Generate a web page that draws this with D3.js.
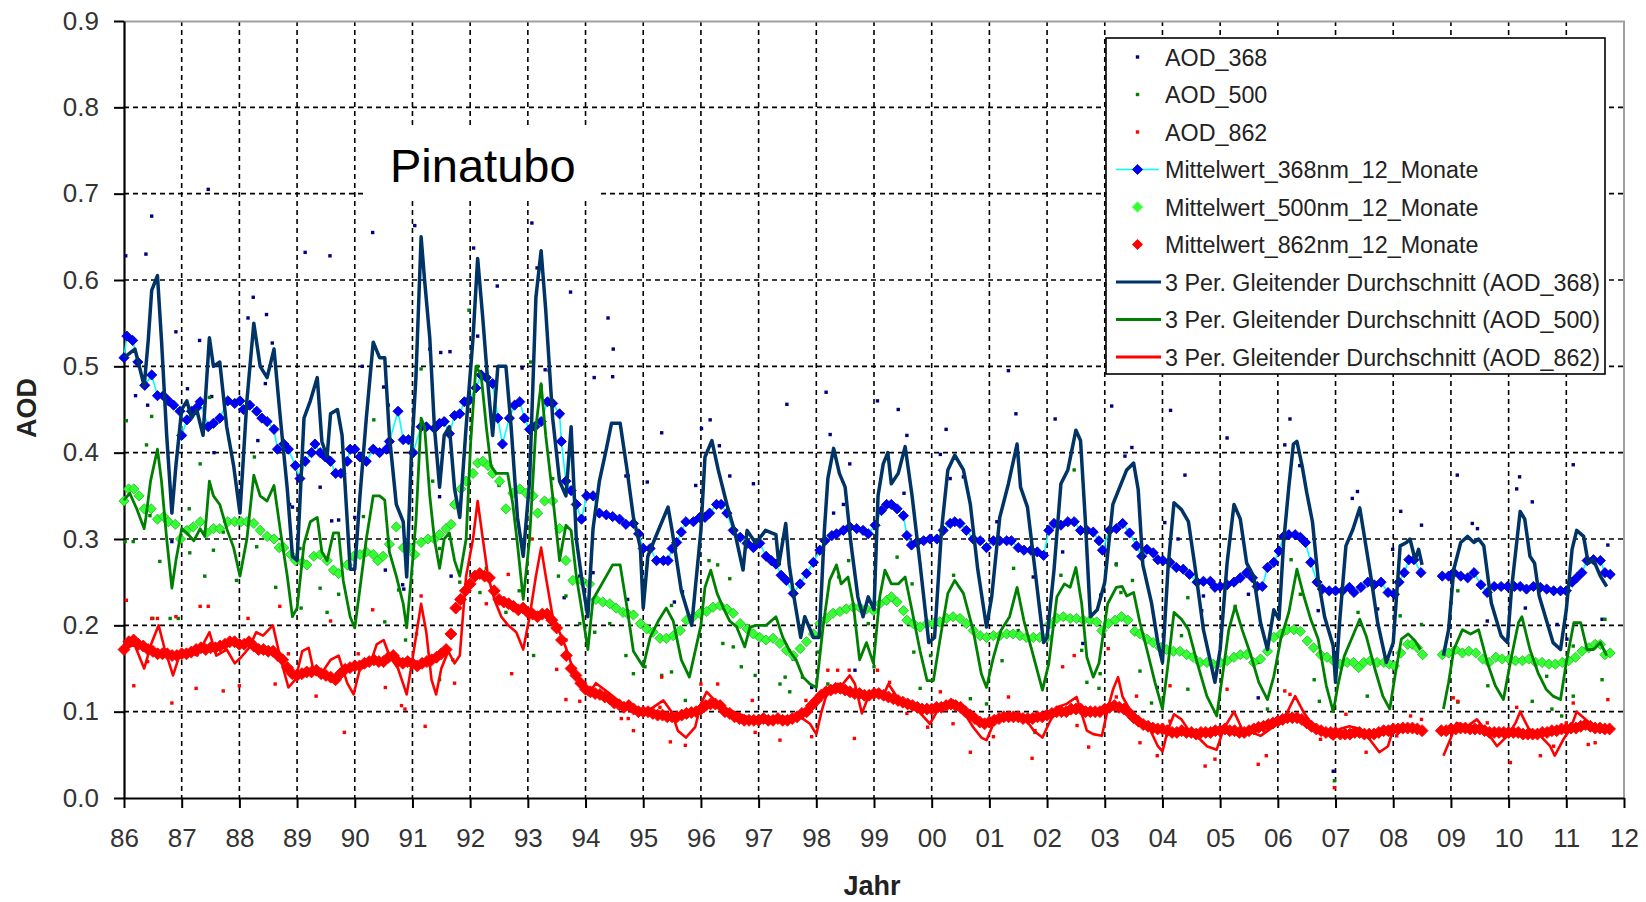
<!DOCTYPE html>
<html>
<head>
<meta charset="utf-8">
<script src="https://cdn.jsdelivr.net/npm/d3@7"></script>
<style>
  body { margin: 0; background: #fff; }
  svg { font-family: "Liberation Sans", Arial, sans-serif; }
</style>
</head>
<body>
<svg id="chart" width="1646" height="902"></svg>
<script>
// ---- data (decimal year, AOD) ----
var yearTicks = d3.range(1986, 2013);
var aodTicks = [0, 0.1, 0.2, 0.3, 0.4, 0.5, 0.6, 0.7, 0.8, 0.9];

var legendLabels = ["AOD_368", "AOD_500", "AOD_862",
  "Mittelwert_368nm_12_Monate", "Mittelwert_500nm_12_Monate", "Mittelwert_862nm_12_Monate",
  "3 Per. Gleitender Durchschnitt (AOD_368)", "3 Per. Gleitender Durchschnitt (AOD_500)",
  "3 Per. Gleitender Durchschnitt (AOD_862)"];

// single observations that stand out of the curves
var aod368 = [[1986.03,0.628],[1986.38,0.63],[1986.48,0.674],[1987.46,0.705],[1986.9,0.54],[1988.24,0.58],[1988.15,0.556],
  [1988.47,0.56],[1989.14,0.632],[1989.57,0.628],[1990.31,0.655],[1991.04,0.663],[1992.06,0.637],[1993.07,0.666],[1992.47,0.593],
  [1993.74,0.586],[1994.39,0.556],[1994.48,0.52],[1991.65,0.517],[1987.31,0.53],[1990.5,0.476],[1990.13,0.5],[1987.52,0.465],
  [1987.1,0.474],[1986.41,0.455],[1986.2,0.466],[1988.45,0.48],[1993.3,0.496],[1993.37,0.495],[1988.57,0.527],[1991.49,0.516],
  [1992.13,0.535],[1994.47,0.488],[1994.15,0.487],[1990.58,0.455],[1991.3,0.52],[1992.9,0.498],[1994.7,0.373],[1994.73,0.23],
  [1993.63,0.232],[1990.83,0.247],[1989.4,0.36],[1988.92,0.337],[1988.32,0.414],[1987.56,0.4],[1986.83,0.297],[1990.53,0.264],
  [1989.6,0.321],[1991.67,0.257],[1993.9,0.257],[1994.13,0.261],[1991.47,0.349],[1990.0,0.325],[1988.87,0.34],[1989.72,0.322],
  [1990.85,0.242],[1993.16,0.614],[1994.74,0.373],[1995.07,0.366],[1995.32,0.423],[1996.01,0.428],[1996.16,0.438],[1996.32,0.408],
  [1996.5,0.373],[1995.91,0.362],[1996.91,0.364],[1997.49,0.456],[1998.17,0.47],[1998.24,0.421],[1998.58,0.387],[1999.06,0.46],
  [1999.42,0.45],[1999.57,0.42],[2000.25,0.427],[2000.15,0.398],[2000.55,0.372],[2000.32,0.37],[2001.33,0.495],[2001.46,0.445],
  [2002.14,0.439],[2003.12,0.454],[1999.52,0.353],[2001.13,0.32],[1998.47,0.34],[1998.3,0.33],[1997.92,0.128],[1998.67,0.148],
  [1997.6,0.161],[1995.54,0.227],[1995.68,0.239],[2002.62,0.179],[2001.76,0.256],[2002.93,0.235],[2002.27,0.285],[2003.2,0.271],
  [2004.14,0.449],[2003.47,0.406],[2003.35,0.396],[2004.39,0.374],[2005.12,0.417],[2006.21,0.439],[2006.12,0.409],[2006.38,0.385],
  [2007.29,0.347],[2007.38,0.355],[2008.13,0.332],[2008.49,0.316],[2009.11,0.374],[2009.37,0.318],[2009.46,0.312],[2010.19,0.372],
  [2010.14,0.358],[2010.41,0.343],[2011.12,0.386],[2011.72,0.293],[2011.62,0.207],[2006.96,0.031],[2004.04,0.319],[2004.27,0.3],
  [2004.71,0.234],[2003.91,0.128],[2005.66,0.116],[2005.49,0.236],[2004.68,0.217],[2006.7,0.217],[2007.99,0.288],[2007.73,0.219],
  [2009.63,0.205],[2010.29,0.22],[2010.84,0.201],[2009.0,0.226],[2011.01,0.184]];

var aod500 = [[1986.04,0.437],[1986.48,0.442],[1986.39,0.409],[1986.02,0.297],[1986.16,0.297],[1986.45,0.327],[1987.13,0.335],
  [1987.32,0.387],[1987.48,0.464],[1986.62,0.274],[1987.14,0.284],[1987.4,0.257],[1987.55,0.287],[1988.26,0.395],[1987.95,0.252],
  [1988.3,0.291],[1988.63,0.244],[1989.05,0.289],[1989.07,0.22],[1989.4,0.243],[1989.72,0.236],[1990.33,0.438],[1990.15,0.326],
  [1990.52,0.204],[1990.76,0.241],[1990.88,0.183],[1991.15,0.497],[1991.35,0.367],[1991.47,0.289],[1991.82,0.25],[1991.98,0.565],
  [1992.13,0.5],[1992.5,0.362],[1993.05,0.505],[1993.23,0.477],[1993.43,0.37],[1993.53,0.257],[1993.66,0.234],[1993.9,0.202],
  [1994.16,0.192],[1994.42,0.202],[1994.7,0.165],[1992.85,0.24],[1993.1,0.165],[1992.05,0.257],[1992.17,0.238],[1992.62,0.215],
  [1992.28,0.266],[1989.52,0.215],[1991.07,0.19],[1991.7,0.16],[1991.47,0.137],[1987.72,0.308],[1986.8,0.208],[1986.5,0.208],
  [1986.94,0.208],[1996.29,0.27],[1996.14,0.275],[1996.5,0.254],[1995.49,0.223],[1994.83,0.144],[1995.32,0.142],[1995.49,0.146],
  [1995.03,0.152],[1995.73,0.113],[1996.38,0.179],[1996.56,0.175],[1996.7,0.152],[1996.94,0.142],[1997.37,0.132],[1997.46,0.14],
  [1997.54,0.123],[1998.56,0.275],[1998.39,0.256],[1999.4,0.279],[1999.66,0.248],[2000.38,0.258],[2001.42,0.266],[2002.47,0.38],
  [2002.24,0.258],[2003.2,0.27],[1999.69,0.169],[1999.98,0.165],[1999.8,0.127],[2000.67,0.115],[2000.95,0.109],[2001.79,0.076],
  [2002.6,0.171],[2002.69,0.134],[2002.92,0.144],[2002.9,0.127],[1998.03,0.169],[1997.76,0.14],[1998.2,0.132],[1998.9,0.202],
  [1999.0,0.152],[2001.5,0.194],[2001.22,0.159],[2003.48,0.252],[2003.28,0.238],[2004.44,0.232],[2004.33,0.188],[2005.26,0.222],
  [2006.23,0.276],[2006.39,0.236],[2007.39,0.215],[2008.12,0.211],[2008.49,0.201],[2009.12,0.24],[2010.1,0.157],[2011.12,0.176],
  [2011.67,0.207],[2011.62,0.137],[2003.61,0.147],[2003.81,0.11],[2004.44,0.126],[2005.66,0.157],[2005.82,0.103],[2006.63,0.137],
  [2006.72,0.112],[2006.98,0.02],[2007.55,0.118],[2006.96,0.101],[2009.12,0.111],[2009.64,0.13],[2010.41,0.112],[2010.75,0.103],
  [2011.12,0.118],[2010.92,0.095],[2010.66,0.141]];

var aod862 = [[1986.04,0.229],[1986.48,0.208],[1986.58,0.208],[1986.9,0.21],[1987.32,0.222],[1987.46,0.222],[1988.15,0.208],
  [1988.7,0.222],[1986.17,0.13],[1986.83,0.11],[1987.25,0.127],[1988.0,0.13],[1988.62,0.132],[1989.33,0.118],[1989.58,0.205],
  [1989.82,0.076],[1990.31,0.218],[1990.53,0.128],[1990.81,0.107],[1990.87,0.103],[1991.15,0.234],[1991.22,0.083],[1991.73,0.133],
  [1992.66,0.259],[1993.07,0.3],[1992.72,0.144],[1993.5,0.149],[1993.66,0.114],[1993.9,0.112],[1994.62,0.092],[1993.66,0.183],
  [1990.06,0.167],[1986.41,0.158],[1987.72,0.124],[1988.85,0.167],[1992.28,0.225],[1991.82,0.22],[1992.39,0.238],[1994.74,0.092],
  [1995.32,0.14],[1995.47,0.065],[1995.73,0.061],[1996.29,0.132],[1996.0,0.132],[1996.89,0.113],[1996.94,0.076],[1997.37,0.067],
  [1997.92,0.071],[1998.2,0.148],[1998.37,0.148],[1998.57,0.148],[1998.66,0.069],[1999.06,0.148],[1999.27,0.134],[2000.15,0.123],
  [1999.93,0.082],[2000.67,0.053],[2001.33,0.117],[2001.74,0.046],[2001.79,0.078],[2002.47,0.165],[2002.27,0.152],[2002.72,0.059],
  [2003.06,0.173],[2003.2,0.117],[2002.52,0.084],[1994.83,0.078],[1995.29,0.105],[1997.82,0.113],[2000.37,0.086],[2001.07,0.071],
  [1999.57,0.098],[2004.13,0.13],[2005.12,0.126],[2006.12,0.124],[2006.21,0.12],[2007.18,0.097],[2008.49,0.091],[2009.12,0.112],
  [2010.14,0.105],[2011.12,0.11],[2011.72,0.114],[2003.91,0.049],[2003.61,0.064],[2004.74,0.037],[2004.91,0.045],[2005.66,0.039],
  [2005.8,0.049],[2006.98,0.012],[2007.53,0.053],[2009.04,0.116],[2010.03,0.041],[2010.55,0.049],[2010.78,0.06],[2011.38,0.062],
  [2004.13,0.089],[2006.74,0.068],[2008.06,0.072],[2009.63,0.087],[2011.0,0.087],[2011.5,0.064],[2008.3,0.095],[2003.55,0.118]];

// 12-month means (diamonds); null = no data
var mean368 = [[1986.0,0.51],[1986.05,0.535],[1986.15,0.53],[1986.24,0.505],[1986.36,0.478],[1986.48,0.49],[1986.58,0.466],
  [1986.68,0.466],[1986.77,0.46],[1986.86,0.455],[1986.97,0.448],[1987.0,0.42],[1987.09,0.438],[1987.17,0.448],[1987.26,0.452],
  [1987.32,0.459],[1987.46,0.43],[1987.55,0.434],[1987.66,0.44],[1987.8,0.46],[1987.92,0.457],[1988.01,0.46],[1988.07,0.45],
  [1988.18,0.455],[1988.3,0.448],[1988.39,0.44],[1988.48,0.436],[1988.6,0.427],[1988.66,0.404],[1988.77,0.41],[1988.85,0.404],
  [1988.97,0.385],[1989.05,0.37],[1989.14,0.39],[1989.25,0.4],[1989.31,0.41],[1989.4,0.4],[1989.49,0.395],[1989.58,0.39],
  [1989.67,0.376],[1989.76,0.376],[1989.87,0.39],[1989.92,0.404],[1990.0,0.404],[1990.09,0.395],[1990.2,0.39],[1990.32,0.404],
  [1990.43,0.4],[1990.55,0.404],[1990.6,0.413],[1990.75,0.448],[1990.84,0.415],[1990.93,0.415],[1991.01,0.4],[1991.15,0.43],
  [1991.24,0.43],[1991.38,0.428],[1991.47,0.434],[1991.55,0.436],[1991.64,0.422],[1991.73,0.443],[1991.82,0.445],[1991.9,0.459],
  [1991.99,0.461],[1992.1,0.475],[1992.19,0.49],[1992.28,0.487],[1992.39,0.48],[1992.48,0.44],[1992.56,0.41],[1992.68,0.44],
  [1992.77,0.455],[1992.86,0.459],[1992.94,0.44],[1993.03,0.427],[1993.12,0.43],[1993.23,0.436],[1993.34,0.459],[1993.43,0.457],
  [1993.55,0.445],[1993.58,0.413],[1993.66,0.367],[1993.75,0.356],[1993.84,0.34],[1993.93,0.323],[1994.02,0.35],[1994.13,0.35],
  [1994.24,0.33],[1994.36,0.328],[1994.47,0.326],[1994.59,0.323],[1994.7,0.317],[1994.83,0.318],[1994.92,0.306],[1995.0,0.289],
  [1995.12,0.289],[1995.23,0.275],[1995.35,0.275],[1995.43,0.275],[1995.5,0.289],[1995.58,0.296],[1995.66,0.308],[1995.74,0.32],
  [1995.87,0.32],[1995.98,0.325],[1996.07,0.325],[1996.15,0.33],[1996.27,0.34],[1996.35,0.34],[1996.45,0.33],[1996.56,0.31],
  [1996.68,0.302],[1996.8,0.295],[1996.91,0.29],[1997.02,0.295],[1997.13,0.28],[1997.22,0.275],[1997.3,0.271],[1997.39,0.258],
  [1997.48,0.252],[1997.6,0.237],[1997.72,0.248],[1997.83,0.26],[1997.95,0.273],[1998.06,0.287],[1998.15,0.298],[1998.27,0.304],
  [1998.35,0.306],[1998.47,0.31],[1998.58,0.314],[1998.7,0.312],[1998.81,0.31],[1998.9,0.306],[1999.02,0.316],[1999.13,0.333],
  [1999.22,0.34],[1999.3,0.34],[1999.4,0.335],[1999.51,0.327],[1999.57,0.304],[1999.65,0.293],[1999.74,0.296],[1999.86,0.298],
  [1999.97,0.3],[2000.09,0.3],[2000.2,0.31],[2000.32,0.318],[2000.4,0.32],[2000.49,0.318],[2000.6,0.31],[2000.72,0.3],
  [2000.84,0.298],[2000.95,0.29],[2001.07,0.298],[2001.18,0.298],[2001.3,0.298],[2001.38,0.298],[2001.5,0.29],[2001.6,0.287],
  [2001.72,0.287],[2001.83,0.285],[2001.94,0.281],[2002.03,0.31],[2002.12,0.318],[2002.24,0.316],[2002.36,0.32],[2002.47,0.32],
  [2002.58,0.31],[2002.69,0.31],[2002.8,0.308],[2002.9,0.298],[2002.96,0.287],[2003.08,0.31],[2003.2,0.312],[2003.31,0.318],
  [2003.43,0.307],[2003.55,0.292],[2003.64,0.28],[2003.73,0.288],[2003.84,0.284],[2003.92,0.276],[2004.01,0.275],[2004.13,0.273],
  [2004.24,0.267],[2004.36,0.265],[2004.47,0.259],[2004.6,0.25],[2004.71,0.251],[2004.83,0.251],[2004.91,0.244],[2005.0,0.245],
  [2005.12,0.247],[2005.24,0.25],[2005.35,0.255],[2005.46,0.261],[2005.56,0.255],[2005.64,0.245],[2005.73,0.245],[2005.82,0.267],
  [2005.93,0.273],[2006.02,0.286],[2006.1,0.303],[2006.19,0.305],[2006.3,0.305],[2006.39,0.302],[2006.48,0.296],[2006.57,0.273],
  [2006.68,0.25],[2006.77,0.242],[2006.89,0.24],[2007.0,0.24],[2007.12,0.24],[2007.24,0.244],[2007.32,0.238],[2007.44,0.244],
  [2007.56,0.25],[2007.67,0.247],[2007.79,0.25],[2007.91,0.238],[2008.02,0.236],[2008.1,0.25],[2008.19,0.261],[2008.27,0.276],
  [2008.36,0.276],[2008.48,0.261],[2008.7,null],[2008.85,0.257],[2008.96,0.257],[2009.05,0.261],[2009.17,0.257],[2009.29,0.255],
  [2009.4,0.261],[2009.52,0.247],[2009.63,0.238],[2009.75,0.245],[2009.87,0.245],[2009.98,0.245],[2010.1,0.245],[2010.2,0.245],
  [2010.31,0.242],[2010.43,0.245],[2010.55,0.244],[2010.66,0.242],[2010.78,0.24],[2010.9,0.24],[2011.0,0.24],[2011.1,0.25],
  [2011.18,0.255],[2011.27,0.261],[2011.36,0.275],[2011.47,0.276],[2011.59,0.275],[2011.67,0.261],[2011.76,0.259]];

var mean500 = [[1986.0,0.344],[1986.08,0.358],[1986.17,0.358],[1986.26,0.35],[1986.35,0.335],[1986.47,0.335],[1986.58,0.323],
  [1986.69,0.326],[1986.77,0.32],[1986.89,0.317],[1986.98,0.3],[1987.09,0.31],[1987.2,0.314],[1987.32,0.32],[1987.43,0.307],
  [1987.55,0.312],[1987.66,0.312],[1987.8,0.32],[1987.92,0.32],[1988.03,0.32],[1988.13,0.32],[1988.25,0.318],[1988.36,0.31],
  [1988.48,0.303],[1988.6,0.3],[1988.69,0.29],[1988.77,0.29],[1988.89,0.282],[1988.97,0.275],[1989.09,0.273],[1989.17,0.27],
  [1989.29,0.28],[1989.4,0.282],[1989.52,0.275],[1989.63,0.264],[1989.72,0.26],[1989.87,0.27],[1989.98,0.28],[1990.09,0.282],
  [1990.2,0.285],[1990.32,0.282],[1990.4,0.275],[1990.49,0.28],[1990.6,0.294],[1990.72,0.314],[1990.84,0.29],[1990.95,0.29],
  [1991.04,0.282],[1991.15,0.296],[1991.27,0.3],[1991.38,0.3],[1991.47,0.305],[1991.58,0.312],[1991.67,0.317],[1991.73,0.34],
  [1991.84,0.358],[1991.93,0.367],[1992.05,0.376],[1992.13,0.388],[1992.22,0.39],[1992.31,0.385],[1992.39,0.376],[1992.51,0.367],
  [1992.62,0.335],[1992.74,0.353],[1992.86,0.358],[1992.97,0.353],[1993.09,0.35],[1993.17,0.33],[1993.29,0.344],[1993.43,0.344],
  [1993.55,0.312],[1993.66,0.275],[1993.78,0.252],[1993.93,0.252],[1994.07,0.248],[1994.18,0.23],[1994.3,0.227],[1994.42,0.225],
  [1994.53,0.22],[1994.65,0.215],[1994.72,0.214],[1994.83,0.212],[1994.95,0.202],[1995.06,0.196],[1995.17,0.192],[1995.29,0.185],
  [1995.4,0.185],[1995.52,0.188],[1995.64,0.194],[1995.75,0.206],[1995.87,0.21],[1995.98,0.214],[1996.1,0.216],[1996.21,0.221],
  [1996.33,0.223],[1996.45,0.219],[1996.56,0.214],[1996.68,0.202],[1996.8,0.196],[1996.91,0.19],[1997.02,0.186],[1997.13,0.183],
  [1997.25,0.185],[1997.37,0.179],[1997.48,0.171],[1997.6,0.165],[1997.72,0.173],[1997.83,0.181],[1997.95,0.19],[1998.06,0.202],
  [1998.18,0.208],[1998.29,0.214],[1998.41,0.216],[1998.52,0.219],[1998.64,0.221],[1998.75,0.221],[1998.87,0.219],[1998.99,0.217],
  [1999.1,0.225],[1999.22,0.229],[1999.3,0.233],[1999.4,0.227],[1999.51,0.217],[1999.57,0.206],[1999.68,0.202],[1999.8,0.198],
  [1999.92,0.202],[2000.03,0.202],[2000.14,0.204],[2000.26,0.208],[2000.37,0.21],[2000.49,0.208],[2000.6,0.202],[2000.72,0.194],
  [2000.84,0.188],[2000.95,0.186],[2001.07,0.188],[2001.18,0.188],[2001.3,0.19],[2001.41,0.19],[2001.53,0.188],[2001.64,0.186],
  [2001.76,0.186],[2001.87,0.186],[2002.0,0.186],[2002.05,0.202],[2002.17,0.208],[2002.28,0.21],[2002.4,0.208],[2002.51,0.208],
  [2002.63,0.206],[2002.75,0.206],[2002.86,0.204],[2002.95,0.194],[2003.06,0.202],[2003.18,0.206],[2003.29,0.21],[2003.4,0.206],
  [2003.52,0.193],[2003.61,0.19],[2003.73,0.184],[2003.84,0.18],[2003.96,0.174],[2004.07,0.172],[2004.19,0.17],[2004.3,0.17],
  [2004.42,0.166],[2004.53,0.163],[2004.65,0.157],[2004.77,0.157],[2004.88,0.155],[2005.0,0.157],[2005.12,0.159],[2005.24,0.163],
  [2005.35,0.166],[2005.46,0.166],[2005.58,0.157],[2005.7,0.161],[2005.82,0.17],[2005.93,0.186],[2006.05,0.19],[2006.16,0.195],
  [2006.28,0.195],[2006.39,0.193],[2006.51,0.182],[2006.62,0.174],[2006.74,0.166],[2006.85,0.163],[2006.96,0.159],[2007.08,0.155],
  [2007.2,0.157],[2007.31,0.157],[2007.4,0.151],[2007.49,0.157],[2007.6,0.159],[2007.72,0.157],[2007.84,0.157],[2007.93,0.155],
  [2008.02,0.153],[2008.13,0.168],[2008.25,0.178],[2008.33,0.178],[2008.42,0.174],[2008.51,0.166],[2008.7,null],[2008.85,0.166],
  [2008.96,0.168],[2009.08,0.172],[2009.2,0.168],[2009.31,0.17],[2009.43,0.168],[2009.55,0.161],[2009.66,0.157],[2009.78,0.163],
  [2009.89,0.161],[2010.01,0.161],[2010.12,0.159],[2010.24,0.159],[2010.35,0.161],[2010.47,0.157],[2010.58,0.157],[2010.7,0.155],
  [2010.81,0.155],[2010.93,0.157],[2011.04,0.159],[2011.16,0.163],[2011.27,0.17],[2011.39,0.174],[2011.5,0.178],[2011.59,0.178],
  [2011.67,0.166],[2011.76,0.168]];

// 862 nm 12-month mean, one value per month from Jan 1986
var mean862Start = 1986;
var mean862 = [
  0.172,0.181,0.183,0.178,0.176,0.172,0.17,0.167,0.167,0.167,0.165,0.165,
  0.167,0.167,0.169,0.172,0.174,0.172,0.174,0.174,0.176,0.178,0.181,0.181,
  0.178,0.178,0.181,0.176,0.172,0.172,0.17,0.17,0.165,0.16,0.151,0.144,
  0.142,0.144,0.146,0.146,0.148,0.144,0.142,0.14,0.137,0.144,0.149,0.151,
  0.153,0.153,0.156,0.158,0.16,0.158,0.158,0.163,0.165,0.158,0.156,0.158,
  0.156,0.153,0.156,0.158,0.16,0.163,0.167,0.172,0.19,0.22,0.23,0.24,
  0.248,0.257,0.26,0.257,0.255,0.24,0.23,0.227,0.225,0.222,0.218,0.22,
  0.215,0.213,0.21,0.213,0.213,0.206,0.197,0.183,0.165,0.15,0.142,0.133,
  0.126,0.123,0.121,0.12,0.117,0.115,0.11,0.108,0.105,0.107,0.103,0.1,
  0.1,0.1,0.098,0.096,0.096,0.094,0.094,0.094,0.096,0.098,0.099,0.1,
  0.103,0.107,0.109,0.109,0.107,0.1,0.098,0.094,0.092,0.09,0.09,0.09,
  0.09,0.092,0.09,0.09,0.092,0.09,0.09,0.092,0.094,0.098,0.1,0.107,
  0.113,0.119,0.123,0.125,0.127,0.127,0.125,0.123,0.121,0.121,0.119,0.119,
  0.121,0.121,0.119,0.117,0.115,0.113,0.111,0.109,0.107,0.105,0.103,0.103,
  0.103,0.105,0.105,0.107,0.109,0.107,0.105,0.1,0.096,0.092,0.088,0.086,
  0.088,0.09,0.092,0.094,0.094,0.094,0.094,0.092,0.092,0.092,0.094,0.094,
  0.096,0.098,0.1,0.1,0.1,0.103,0.103,0.103,0.1,0.1,0.1,0.1,
  0.103,0.105,0.107,0.105,0.103,0.099,0.093,0.089,0.085,0.083,0.081,0.08,
  0.08,0.078,0.076,0.076,0.078,0.076,0.076,0.074,0.076,0.076,0.076,0.078,
  0.078,0.08,0.078,0.078,0.076,0.076,0.078,0.08,0.082,0.083,0.085,0.087,
  0.089,0.091,0.093,0.093,0.093,0.091,0.087,0.083,0.08,0.078,0.076,0.076,
  0.076,0.074,0.074,0.074,0.076,0.076,0.074,0.074,0.074,0.076,0.078,0.078,
  0.08,0.08,0.081,0.081,0.081,0.08,0.078,null,null,null,0.078,0.078,
  0.08,0.08,0.081,0.081,0.08,0.08,0.08,0.078,0.076,0.076,0.076,0.076,
  0.076,0.076,0.076,0.074,0.074,0.074,0.074,0.076,0.076,0.078,0.078,0.08,
  0.08,0.081,0.081,0.083,0.085,0.083,0.081,0.081,0.08,0.08];

// 3-period moving averages (line vertices)
var ma368 = [[1986.0,0.51],[1986.19,0.52],[1986.28,0.496],[1986.35,0.477],[1986.42,0.53],[1986.48,0.588],[1986.58,0.605],
  [1986.65,0.53],[1986.74,0.42],[1986.83,0.33],[1986.9,0.385],[1987.0,0.45],[1987.09,0.46],[1987.17,0.44],[1987.26,0.45],
  [1987.37,0.42],[1987.48,0.533],[1987.55,0.5],[1987.66,0.505],[1987.78,0.43],[1987.9,0.385],[1988.01,0.33],[1988.13,0.46],
  [1988.25,0.55],[1988.36,0.5],[1988.48,0.487],[1988.6,0.52],[1988.71,0.44],[1988.83,0.358],[1988.92,0.28],[1989.0,0.275],
  [1989.12,0.44],[1989.23,0.46],[1989.35,0.487],[1989.43,0.413],[1989.52,0.395],[1989.58,0.445],[1989.7,0.45],[1989.78,0.42],
  [1989.92,0.265],[1990.0,0.265],[1990.09,0.35],[1990.2,0.44],[1990.32,0.528],[1990.43,0.51],[1990.52,0.51],[1990.6,0.42],
  [1990.72,0.34],[1990.84,0.32],[1990.9,0.256],[1990.98,0.395],[1991.06,0.487],[1991.15,0.65],[1991.21,0.6],[1991.3,0.533],
  [1991.38,0.43],[1991.47,0.36],[1991.55,0.42],[1991.64,0.43],[1991.73,0.358],[1991.82,0.325],[1991.93,0.43],[1992.05,0.533],
  [1992.13,0.625],[1992.22,0.555],[1992.31,0.478],[1992.39,0.42],[1992.48,0.5],[1992.62,0.5],[1992.71,0.43],[1992.82,0.325],
  [1992.92,0.28],[1993.03,0.367],[1993.14,0.58],[1993.23,0.634],[1993.31,0.565],[1993.43,0.44],[1993.55,0.367],[1993.66,0.35],
  [1993.75,0.43],[1993.84,0.3],[1993.93,0.256],[1994.04,0.21],[1994.13,0.312],[1994.24,0.367],[1994.36,0.404],[1994.45,0.434],
  [1994.6,0.434],[1994.72,0.38],[1994.83,0.325],[1994.95,0.29],[1995.0,0.22],[1995.08,0.28],[1995.2,0.3],[1995.43,0.337],
  [1995.5,0.31],[1995.66,0.24],[1995.84,0.2],[1996.0,0.31],[1996.07,0.395],[1996.19,0.414],[1996.3,0.38],[1996.45,0.34],
  [1996.58,0.31],[1996.73,0.264],[1996.8,0.31],[1996.95,0.295],[1997.12,0.31],[1997.3,0.305],[1997.35,0.27],[1997.47,0.318],
  [1997.53,0.27],[1997.62,0.23],[1997.73,0.186],[1997.8,0.21],[1997.95,0.186],[1998.05,0.186],[1998.14,0.31],[1998.2,0.37],
  [1998.3,0.405],[1998.4,0.376],[1998.5,0.36],[1998.6,0.295],[1998.72,0.233],[1998.81,0.21],[1998.9,0.233],[1999.0,0.218],
  [1999.07,0.35],[1999.16,0.387],[1999.24,0.4],[1999.3,0.364],[1999.42,0.376],[1999.54,0.407],[1999.66,0.35],[1999.8,0.27],
  [1999.95,0.18],[2000.05,0.186],[2000.17,0.31],[2000.28,0.38],[2000.4,0.397],[2000.55,0.38],[2000.67,0.34],[2000.8,0.264],
  [2000.95,0.198],[2001.04,0.233],[2001.18,0.325],[2001.33,0.364],[2001.48,0.41],[2001.54,0.36],[2001.66,0.337],[2001.78,0.27],
  [2001.94,0.18],[2002.0,0.186],[2002.12,0.264],[2002.24,0.364],[2002.36,0.38],[2002.5,0.426],[2002.58,0.414],[2002.66,0.325],
  [2002.75,0.21],[2002.87,0.218],[2003.0,0.25],[2003.14,0.34],[2003.26,0.36],[2003.38,0.38],[2003.5,0.388],[2003.58,0.357],
  [2003.66,0.27],[2003.81,0.226],[2003.92,0.18],[2004.0,0.157],[2004.1,0.27],[2004.2,0.342],[2004.33,0.334],[2004.45,0.32],
  [2004.57,0.265],[2004.71,0.195],[2004.91,0.134],[2005.0,0.172],[2005.12,0.272],[2005.24,0.34],[2005.35,0.323],[2005.46,0.272],
  [2005.58,0.257],[2005.7,0.203],[2005.82,0.172],[2005.93,0.218],[2006.02,0.207],[2006.1,0.296],[2006.19,0.36],[2006.27,0.41],
  [2006.33,0.413],[2006.42,0.385],[2006.5,0.354],[2006.6,0.32],[2006.7,0.253],[2006.81,0.21],[2006.96,0.176],[2007.0,0.134],
  [2007.07,0.203],[2007.18,0.292],[2007.3,0.311],[2007.42,0.336],[2007.5,0.303],[2007.62,0.253],[2007.73,0.203],[2007.88,0.157],
  [2008.0,0.18],[2008.12,0.292],[2008.23,0.296],[2008.29,0.3],[2008.38,0.276],[2008.44,0.288],[2008.5,0.27],[2008.7,null],
  [2008.87,0.165],[2008.96,0.195],[2009.05,0.265],[2009.17,0.296],[2009.29,0.303],[2009.4,0.296],[2009.48,0.3],[2009.57,0.292],
  [2009.7,0.226],[2009.87,0.188],[2009.98,0.18],[2010.05,0.242],[2010.2,0.332],[2010.28,0.323],[2010.37,0.28],[2010.45,0.272],
  [2010.53,0.234],[2010.65,0.207],[2010.77,0.18],[2010.9,0.172],[2011.0,0.218],[2011.1,0.288],[2011.18,0.31],[2011.3,0.303],
  [2011.38,0.272],[2011.47,0.276],[2011.59,0.257],[2011.7,0.245]];

var ma500 = [[1986.0,0.345],[1986.1,0.353],[1986.22,0.335],[1986.35,0.312],[1986.38,0.325],[1986.46,0.367],[1986.58,0.404],
  [1986.65,0.367],[1986.74,0.3],[1986.83,0.243],[1986.9,0.275],[1987.0,0.312],[1987.09,0.307],[1987.21,0.298],[1987.32,0.312],
  [1987.4,0.303],[1987.48,0.367],[1987.55,0.35],[1987.66,0.34],[1987.78,0.312],[1987.9,0.29],[1988.01,0.257],[1988.13,0.3],
  [1988.25,0.374],[1988.36,0.35],[1988.48,0.344],[1988.6,0.362],[1988.71,0.31],[1988.83,0.257],[1988.92,0.21],[1989.0,0.22],
  [1989.12,0.294],[1989.23,0.32],[1989.35,0.325],[1989.43,0.285],[1989.52,0.275],[1989.63,0.307],[1989.72,0.307],[1989.8,0.252],
  [1989.92,0.21],[1990.0,0.197],[1990.09,0.243],[1990.2,0.3],[1990.32,0.35],[1990.43,0.35],[1990.52,0.345],[1990.6,0.285],
  [1990.72,0.257],[1990.84,0.225],[1990.9,0.197],[1990.98,0.257],[1991.06,0.32],[1991.15,0.44],[1991.21,0.43],[1991.3,0.35],
  [1991.38,0.3],[1991.47,0.266],[1991.55,0.3],[1991.64,0.307],[1991.73,0.275],[1991.82,0.257],[1991.93,0.3],[1992.01,0.413],
  [1992.1,0.5],[1992.19,0.49],[1992.28,0.43],[1992.36,0.385],[1992.45,0.376],[1992.65,0.376],[1992.74,0.34],[1992.82,0.294],
  [1992.92,0.23],[1993.03,0.3],[1993.14,0.43],[1993.23,0.48],[1993.31,0.42],[1993.43,0.35],[1993.55,0.275],[1993.66,0.316],
  [1993.75,0.31],[1993.84,0.257],[1993.93,0.22],[1994.04,0.172],[1994.13,0.23],[1994.24,0.243],[1994.36,0.257],[1994.47,0.27],
  [1994.6,0.27],[1994.72,0.22],[1994.83,0.17],[1995.0,0.152],[1995.12,0.186],[1995.26,0.205],[1995.4,0.22],[1995.52,0.205],
  [1995.66,0.16],[1995.8,0.14],[1996.0,0.2],[1996.07,0.244],[1996.17,0.264],[1996.28,0.237],[1996.39,0.22],[1996.5,0.205],
  [1996.62,0.198],[1996.76,0.175],[1996.85,0.198],[1996.96,0.2],[1997.13,0.2],[1997.3,0.21],[1997.42,0.186],[1997.54,0.17],
  [1997.65,0.16],[1997.77,0.14],[1997.89,0.132],[1998.0,0.128],[1998.12,0.2],[1998.23,0.252],[1998.35,0.27],[1998.43,0.248],
  [1998.55,0.256],[1998.64,0.225],[1998.75,0.16],[1998.87,0.18],[1998.99,0.156],[1999.1,0.233],[1999.19,0.264],[1999.3,0.248],
  [1999.42,0.248],[1999.54,0.256],[1999.65,0.22],[1999.8,0.17],[1999.92,0.136],[2000.03,0.136],[2000.14,0.182],[2000.28,0.237],
  [2000.4,0.252],[2000.55,0.237],[2000.72,0.194],[2000.86,0.144],[2000.95,0.128],[2001.07,0.163],[2001.2,0.194],[2001.35,0.21],
  [2001.48,0.244],[2001.6,0.205],[2001.74,0.17],[2001.92,0.125],[2002.03,0.156],[2002.17,0.233],[2002.3,0.248],[2002.4,0.244],
  [2002.5,0.267],[2002.6,0.225],[2002.69,0.163],[2002.8,0.14],[2002.9,0.156],[2003.05,0.225],[2003.2,0.244],[2003.3,0.245],
  [2003.38,0.234],[2003.5,0.238],[2003.61,0.203],[2003.73,0.172],[2003.87,0.134],[2004.0,0.103],[2004.1,0.157],[2004.2,0.215],
  [2004.33,0.207],[2004.45,0.195],[2004.6,0.157],[2004.77,0.118],[2004.94,0.095],[2005.03,0.137],[2005.15,0.195],[2005.26,0.222],
  [2005.38,0.195],[2005.52,0.168],[2005.67,0.134],[2005.82,0.114],[2005.93,0.141],[2006.05,0.184],[2006.19,0.215],[2006.33,0.265],
  [2006.45,0.234],[2006.57,0.207],[2006.7,0.184],[2006.84,0.13],[2006.96,0.1],[2007.04,0.13],[2007.15,0.164],[2007.3,0.188],
  [2007.42,0.207],[2007.53,0.188],[2007.68,0.15],[2007.82,0.118],[2007.94,0.103],[2008.03,0.141],[2008.14,0.184],[2008.26,0.19],
  [2008.38,0.182],[2008.47,0.172],[2008.7,null],[2008.87,0.103],[2008.96,0.134],[2009.05,0.172],[2009.2,0.195],[2009.34,0.19],
  [2009.48,0.195],[2009.63,0.157],[2009.77,0.13],[2009.91,0.114],[2010.03,0.157],[2010.17,0.203],[2010.23,0.21],[2010.37,0.172],
  [2010.51,0.145],[2010.65,0.126],[2010.77,0.118],[2010.9,0.114],[2011.0,0.157],[2011.13,0.203],[2011.25,0.203],[2011.36,0.172],
  [2011.47,0.172],[2011.59,0.18],[2011.7,0.165]];

var ma862 = [[1986.0,0.172],[1986.18,0.178],[1986.35,0.15],[1986.47,0.178],[1986.6,0.2],[1986.7,0.174],[1986.85,0.142],
  [1986.96,0.165],[1987.1,0.17],[1987.27,0.165],[1987.48,0.192],[1987.6,0.165],[1987.78,0.172],[1987.92,0.156],[1988.03,0.163],
  [1988.17,0.174],[1988.29,0.192],[1988.41,0.188],[1988.58,0.2],[1988.7,0.165],[1988.85,0.128],[1988.97,0.137],[1989.09,0.17],
  [1989.2,0.174],[1989.29,0.146],[1989.4,0.142],[1989.58,0.16],[1989.72,0.165],[1989.87,0.133],[1989.98,0.12],[1990.09,0.15],
  [1990.27,0.156],[1990.38,0.178],[1990.5,0.183],[1990.6,0.165],[1990.75,0.15],[1990.9,0.12],[1991.01,0.165],[1991.15,0.225],
  [1991.24,0.192],[1991.33,0.137],[1991.41,0.12],[1991.5,0.15],[1991.62,0.17],[1991.73,0.156],[1991.82,0.165],[1991.93,0.257],
  [1992.05,0.3],[1992.13,0.344],[1992.22,0.3],[1992.31,0.257],[1992.42,0.23],[1992.54,0.21],[1992.66,0.2],[1992.8,0.192],
  [1992.92,0.172],[1993.03,0.21],[1993.14,0.257],[1993.23,0.29],[1993.31,0.257],[1993.43,0.21],[1993.55,0.192],[1993.66,0.174],
  [1993.78,0.15],[1993.93,0.133],[1994.04,0.12],[1994.18,0.133],[1994.36,0.124],[1994.53,0.115],[1994.68,0.107],[1994.77,0.105],
  [1995.0,0.098],[1995.17,0.105],[1995.35,0.113],[1995.49,0.1],[1995.6,0.078],[1995.74,0.07],[1995.9,0.082],[1996.0,0.109],
  [1996.1,0.123],[1996.24,0.113],[1996.39,0.105],[1996.56,0.1],[1996.8,0.094],[1997.02,0.09],[1997.25,0.092],[1997.48,0.094],
  [1997.72,0.094],[1997.89,0.086],[1998.0,0.074],[1998.09,0.1],[1998.2,0.125],[1998.35,0.132],[1998.46,0.132],[1998.58,0.142],
  [1998.67,0.132],[1998.79,0.098],[1998.9,0.117],[1999.02,0.125],[1999.17,0.12],[1999.25,0.132],[1999.4,0.117],[1999.57,0.109],
  [1999.74,0.103],[1999.86,0.094],[1999.97,0.086],[2000.09,0.1],[2000.23,0.109],[2000.37,0.113],[2000.55,0.1],[2000.72,0.082],
  [2000.86,0.07],[2000.95,0.067],[2001.07,0.086],[2001.24,0.094],[2001.42,0.098],[2001.6,0.094],[2001.77,0.078],[2001.92,0.07],
  [2002.03,0.086],[2002.17,0.105],[2002.34,0.109],[2002.51,0.117],[2002.69,0.078],[2002.8,0.074],[2002.95,0.072],[2003.06,0.105],
  [2003.14,0.125],[2003.23,0.14],[2003.31,0.117],[2003.43,0.103],[2003.61,0.091],[2003.78,0.08],[2003.92,0.06],[2004.0,0.054],
  [2004.1,0.08],[2004.2,0.097],[2004.33,0.091],[2004.48,0.076],[2004.65,0.068],[2004.77,0.06],[2004.94,0.056],[2005.06,0.08],
  [2005.24,0.1],[2005.38,0.08],[2005.55,0.076],[2005.7,0.072],[2005.87,0.08],[2006.02,0.087],[2006.16,0.099],[2006.3,0.118],
  [2006.45,0.099],[2006.62,0.083],[2006.79,0.08],[2006.96,0.068],[2007.07,0.08],[2007.24,0.083],[2007.42,0.08],[2007.59,0.068],
  [2007.76,0.053],[2007.91,0.06],[2008.0,0.08],[2008.17,0.083],[2008.35,0.08],[2008.5,0.076],[2008.7,null],[2008.87,0.049],
  [2008.99,0.068],[2009.1,0.087],[2009.28,0.083],[2009.45,0.091],[2009.63,0.076],[2009.8,0.06],[2009.98,0.072],[2010.12,0.087],
  [2010.2,0.1],[2010.35,0.08],[2010.55,0.072],[2010.72,0.06],[2010.8,0.049],[2010.95,0.068],[2011.07,0.08],[2011.18,0.1],
  [2011.3,0.093],[2011.47,0.083],[2011.62,0.08],[2011.73,0.081]];

// ---- layout ----
var margin = {top: 21, right: 22, bottom: 104, left: 124},
    width = 1646 - margin.left - margin.right,
    height = 902 - margin.top - margin.bottom;

var x = d3.scaleLinear().domain([1986, 2012]).range([0, width]);
var y = d3.scaleLinear().domain([0, 0.9]).range([height, 0]);

var svg = d3.select("#chart");
var chart = svg.append("g")
    .attr("transform", "translate(" + margin.left + "," + margin.top + ")");

// grid
chart.append("g").selectAll("line")
    .data(aodTicks.filter(function(d){ return d > 0 && d < 0.9; }))
  .enter().append("line")
    .attr("x1", 0).attr("x2", width)
    .attr("y1", function(d){ return y(d); }).attr("y2", function(d){ return y(d); })
    .attr("stroke", "#000").attr("stroke-width", 1.6).attr("stroke-dasharray", "5,4");
chart.append("g").selectAll("line")
    .data(yearTicks.filter(function(d){ return d > 1986 && d < 2012; }))
  .enter().append("line")
    .attr("x1", function(d){ return x(d); }).attr("x2", function(d){ return x(d); })
    .attr("y1", 0).attr("y2", height)
    .attr("stroke", "#000").attr("stroke-width", 1.6).attr("stroke-dasharray", "5,4");

// top / right frame
chart.append("path")
    .attr("d", "M0,0.5H" + width + "V" + height)
    .attr("fill", "none").attr("stroke", "#a0a0a0").attr("stroke-width", 2);

// Pinatubo label box (hides grid behind it)
chart.append("rect")
    .attr("x", 241).attr("y", 104).attr("width", 233).attr("height", 76)
    .attr("fill", "#fff");
chart.append("text")
    .attr("x", 266).attr("y", 161)
    .attr("font-size", 47).attr("fill", "#000")
    .text("Pinatubo");

// axes
var xAxis = d3.axisBottom(x)
    .tickValues(yearTicks)
    .tickFormat(function(d){ return String(d % 100).padStart(2, "0"); })
    .tickSize(10).tickSizeOuter(0).tickPadding(21);
var yAxis = d3.axisLeft(y)
    .tickValues(aodTicks)
    .tickFormat(d3.format(".1f"))
    .tickSize(10).tickSizeOuter(0).tickPadding(15);

var gx = chart.append("g").attr("transform", "translate(0," + height + ")").call(xAxis);
var gy = chart.append("g").call(yAxis);
[gx, gy].forEach(function(g){
  g.select(".domain").attr("stroke", "#000").attr("stroke-width", 2.2);
  g.selectAll(".tick line").attr("stroke", "#000").attr("stroke-width", 2);
  g.selectAll(".tick text").attr("font-size", 26).attr("fill", "#333")
    .attr("font-family", "Liberation Sans, Arial, sans-serif");
});

svg.append("text")
    .attr("x", 872).attr("y", 895).attr("text-anchor", "middle")
    .attr("font-size", 27).attr("font-weight", "bold").attr("fill", "#222")
    .text("Jahr");
svg.append("text")
    .attr("transform", "translate(36,408) rotate(-90)").attr("text-anchor", "middle")
    .attr("font-size", 27).attr("font-weight", "bold").attr("fill", "#222")
    .text("AOD");

// ---- series ----
var defined = function(d){ return d[1] !== null; };
var line = d3.line().defined(defined)
    .x(function(d){ return x(d[0]); }).y(function(d){ return y(d[1]); });
var diamond = d3.symbol().type(d3.symbolSquare).size(52);

function dots(data, color) {
  chart.append("g").selectAll("rect").data(data).enter().append("rect")
      .attr("x", function(d){ return x(d[0]) - 1.7; })
      .attr("y", function(d){ return y(d[1]) - 1.7; })
      .attr("width", 3.4).attr("height", 3.4)
      .attr("fill", color);
}
function diamonds(data, fill, stroke, sym) {
  chart.append("g").selectAll("path").data(data.filter(defined)).enter().append("path")
      .attr("d", sym || diamond)
      .attr("transform", function(d){ return "translate(" + x(d[0]) + "," + y(d[1]) + ") rotate(45)"; })
      .attr("fill", fill).attr("stroke", stroke).attr("stroke-width", 0.8);
}
function curve(data, color, w) {
  chart.append("path").datum(data).attr("d", line)
      .attr("fill", "none").attr("stroke", color).attr("stroke-width", w)
      .attr("stroke-linejoin", "round");
}

dots(aod368, "#000080");
dots(aod500, "#008000");
dots(aod862, "#ff0000");

curve(mean368, "#00ffff", 1.6);
diamonds(mean368, "#0000ff", "#0000a0");
diamonds(mean500, "#33ff33", "#2cb82c");
var mean862Pts = mean862.map(function(v, i){ return [mean862Start + i / 12, v]; });
diamonds(mean862Pts, "#ff0000", "#ff0000", d3.symbol().type(d3.symbolSquare).size(72));

curve(ma368, "#003366", 3.5);
curve(ma500, "#008000", 2.8);
curve(ma862, "#ff0000", 2.6);

// ---- legend ----
var legend = svg.append("g").attr("transform", "translate(1106,38)");
legend.append("rect")
    .attr("x", 0).attr("y", 0).attr("width", 499).attr("height", 336)
    .attr("fill", "#fff").attr("stroke", "#000").attr("stroke-width", 1.6);

var rowY = function(i){ return 19 + i * 37.5; };
var dotColors = ["#000080", "#008000", "#ff0000"];
var meanFill = ["#0000ff", "#33ff33", "#ff0000"];
var maColors = ["#003366", "#008000", "#ff0000"];

legendLabels.forEach(function(label, i){
  var g = legend.append("g").attr("transform", "translate(0," + rowY(i) + ")");
  if (i < 3) {
    g.append("rect").attr("x", 29.8).attr("y", -1.7).attr("width", 3.4).attr("height", 3.4)
        .attr("fill", dotColors[i]);
  } else if (i < 6) {
    if (i === 3) {
      g.append("line").attr("x1", 10).attr("x2", 53).attr("stroke", "#00ffff").attr("stroke-width", 1.6);
    }
    g.append("path").attr("d", diamond)
        .attr("transform", "translate(31.5,0) rotate(45)")
        .attr("fill", meanFill[i - 3]).attr("stroke", i === 3 ? "#0000a0" : meanFill[i - 3]).attr("stroke-width", 0.8);
  } else {
    g.append("line").attr("x1", 10).attr("x2", 55).attr("stroke", maColors[i - 6]).attr("stroke-width", 3);
  }
  g.append("text").attr("x", 59).attr("y", 8.5)
      .attr("font-size", 23.3).attr("fill", "#222")
      .text(label);
});
</script>
</body>
</html>
